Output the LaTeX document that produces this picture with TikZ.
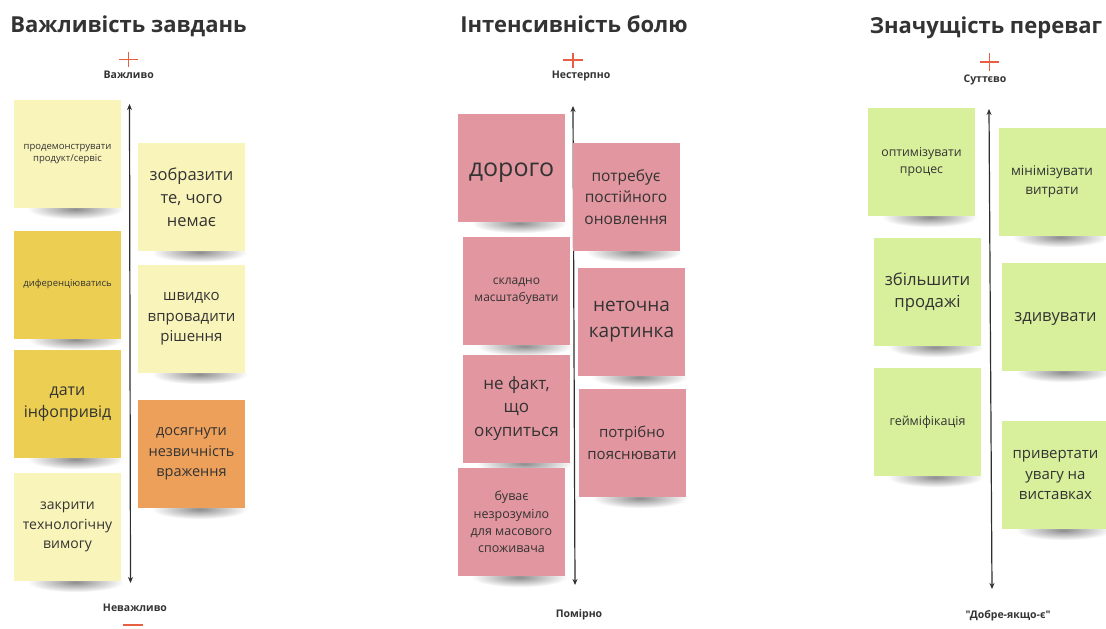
\documentclass[tikz,border=0pt]{standalone}
\usepackage{fontspec}
\setmainfont{Open Sans}
\newfontfamily\plainquotes{Open Sans}[Ligatures=TeXOff]
\usetikzlibrary{arrows.meta}
\pgfdeclarelayer{background}
\pgfsetlayers{background,main}

\definecolor{ink}{HTML}{333333}
\definecolor{accent}{HTML}{E85E42}
\definecolor{paleyellow}{HTML}{F9F4BA}
\definecolor{goldyellow}{HTML}{ECCF52}
\definecolor{softorange}{HTML}{EDA05A}
\definecolor{rosepink}{HTML}{E296A0}
\definecolor{limegreen}{HTML}{D8F09C}

\newcommand\sz[2]{\fontsize{#1}{#2}\selectfont}

\tikzset{
  sticky/.style={rectangle, minimum width=107pt, minimum height=108pt,
    inner sep=0pt, align=center, text=ink},
  heading/.style={anchor=base, text=ink, font=\bfseries\sz{22}{27}},
  axislabel/.style={anchor=base, text=ink, font=\bfseries\sz{10.5}{13}},
  axis/.style={line width=1.2pt, draw=ink!90!black,
    {Stealth[length=6pt,width=5pt]}-{Stealth[length=6pt,width=5pt]}},
  mark line/.style={draw=accent, line width=1.5pt},
  notesh/.style={inner color=black!45, outer color=white},
}

% soft curled shadow under a note
\newcommand\noteshadow[1]{%
  \begin{pgfonlayer}{background}
    \shade[notesh] ([xshift=8pt,yshift=-1pt]#1.south) ellipse [x radius=48pt, y radius=10pt];
  \end{pgfonlayer}}

\begin{document}
\begin{tikzpicture}[x=1pt,y=-1pt]
\useasboundingbox (0,0) rectangle (1106,629);
\begin{pgfonlayer}{background}
  \fill[white] (0,0) rectangle (1106,629);
\end{pgfonlayer}

% ---------------- column 1: task importance ----------------
\node[heading] (t1) at (128.5,32) {Важливість завдань};
\draw[mark line] (119,59.5) -- (138,59.5) (128.5,52) -- (128.5,67);
\node[axislabel] (hi1) at (128.7,78) {Важливо};
\node[axislabel] (lo1) at (135,611) {Неважливо};
\draw[mark line] (123,625) -- (143,625);
\coordinate (a1top) at (129.5,104);
\coordinate (a1bot) at (130.5,583);
\draw[axis] (a1bot) -- (a1top);

\node[sticky, fill=paleyellow, font=\sz{9.5}{12.5}] (p1) at (67.5,154)
  {продемонструвати\\продукт/сервіс};
\node[sticky, fill=goldyellow, font=\sz{9.5}{12.5}] (p2) at (67.5,284.5)
  {диференціюватись};
\node[sticky, fill=goldyellow, font=\sz{16}{21.5}] (p3) at (67.5,404)
  {дати\\інфопривід};
\node[sticky, fill=paleyellow, font=\sz{14}{19.5}] (p4) at (67.5,527)
  {закрити\\технологічну\\вимогу};
\node[sticky, fill=paleyellow, font=\sz{16.5}{23}] (p5) at (191.5,197)
  {зобразити\\те, чого\\немає};
\node[sticky, fill=paleyellow, font=\sz{15}{20.5}] (p6) at (191.5,319)
  {швидко\\впровадити\\рішення};
\node[sticky, fill=softorange, font=\sz{14.5}{20.5}] (p7) at (191.5,454)
  {досягнути\\незвичність\\враження};

% ---------------- column 2: pain intensity ----------------
\node[heading] (t2) at (574,32) {Інтенсивність болю};
\draw[mark line] (563,60) -- (583,60) (573,53) -- (573,68);
\node[axislabel] (hi2) at (581,78) {Нестерпно};
\node[axislabel] (lo2) at (579,617) {Помірно};
\coordinate (a2top) at (573,106);
\coordinate (a2bot) at (575,585);
\draw[axis] (a2bot) -- (a2top);

\node[sticky, fill=rosepink, font=\sz{25}{30}] (q1) at (511.5,168)
  {\raisebox{-8pt}[0pt][0pt]{дорого}};
\node[sticky, fill=rosepink, font=\sz{12}{16.5}] (q2) at (516.5,291)
  {складно\\масштабувати};
\node[sticky, fill=rosepink, font=\sz{17}{23.3}] (q3) at (516.5,408.5)
  {не факт,\\що\\окупиться};
\node[sticky, fill=rosepink, font=\sz{12.5}{17.3}] (q4) at (511.5,522)
  {буває\\незрозуміло\\для масового\\споживача};
\node[sticky, fill=rosepink, font=\sz{15.5}{21.7}] (q5) at (626,197)
  {потребує\\постійного\\оновлення};
\node[sticky, fill=rosepink, font=\sz{19}{26}] (q6) at (631.5,322)
  {неточна\\картинка};
\node[sticky, fill=rosepink, font=\sz{15}{21.5}] (q7) at (632,443)
  {потрібно\\пояснювати};

% ---------------- column 3: benefit significance ----------------
\node[heading] (t3) at (986,33) {Значущість переваг};
\draw[mark line] (980,62) -- (999,62) (989.5,53) -- (989.5,71);
\node[axislabel] (hi3) at (985,82) {Суттєво};
\node[axislabel, font=\plainquotes\bfseries\sz{10.5}{13}] (lo3) at (1008,618)
  {"Добре-якщо-є"};
\coordinate (a3top) at (989,109);
\coordinate (a3bot) at (992,589);
\draw[axis] (a3bot) -- (a3top);

\node[sticky, fill=limegreen, font=\sz{12.3}{16.7}] (r1) at (921.5,162)
  {оптимізувати\\процес};
\node[sticky, fill=limegreen, font=\sz{16.7}{22.7}] (r2) at (927.5,292)
  {збільшити\\продажі};
\node[sticky, fill=limegreen, font=\sz{12.5}{17}] (r3) at (927.5,422)
  {гейміфікація};
\node[sticky, fill=limegreen, font=\sz{13.5}{19}] (r4) at (1052,182)
  {мінімізувати\\витрати};
\node[sticky, fill=limegreen, font=\sz{16.5}{22}] (r5) at (1055.5,317)
  {\raisebox{-4.5pt}[0pt][0pt]{здивувати}};
\node[sticky, fill=limegreen, font=\sz{15}{20.5}] (r6) at (1055.5,475)
  {привертати\\увагу на\\виставках};

% shadows beneath every note
\foreach \n in {p1,p2,p3,p4,p5,p6,p7,q1,q2,q3,q4,q5,q6,q7,r1,r2,r3,r4,r5,r6}
  {\noteshadow{\n}}
\end{tikzpicture}
\end{document}
